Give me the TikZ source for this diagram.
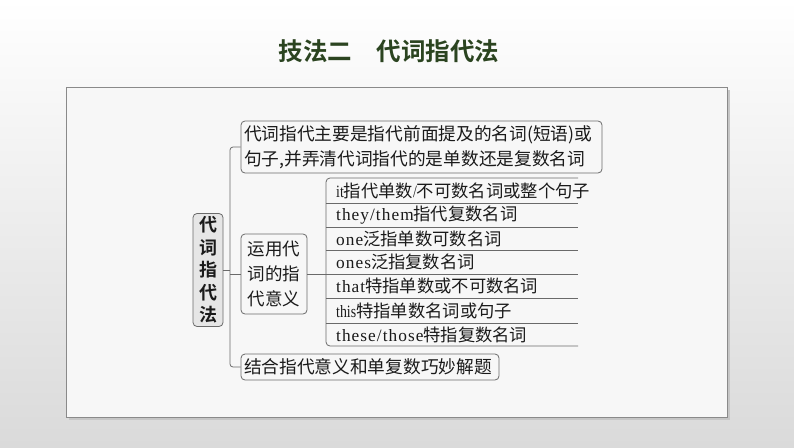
\documentclass[tikz,border=0pt]{standalone}
\usepackage{fontspec}
\setmainfont{Liberation Serif}
\newfontfamily\rowlatin{Liberation Serif}[LetterSpace=6]
\newfontfamily\narrowlatin{Liberation Serif}[FakeStretch=0.8]
\newfontfamily\cjk{Noto Sans CJK SC}
\newfontfamily\cjkbf{Noto Sans CJK SC Bold}
\definecolor{titlegreen}{HTML}{2B4420}
\definecolor{framefill}{HTML}{F7F7F7}
\definecolor{framedraw}{HTML}{8A8A8A}
\definecolor{boxdraw}{HTML}{6A6A6A}
\definecolor{rootfill}{HTML}{E6E6E6}
\definecolor{bgbottom}{HTML}{DADADA}
\definecolor{inktext}{HTML}{1A1A1A}
\begin{document}
\begin{tikzpicture}[x=1pt,y=-1pt,
  txt/.style={font=\fontsize{17.7}{25}\selectfont, text=inktext},
  bx/.style={txt, draw=boxdraw, line width=0.8pt, rounded corners=4pt, fill=framefill, inner sep=0pt},
  rowbox/.style={font=\rowlatin\fontsize{17.3}{24}\selectfont, text=inktext, anchor=west, inner sep=0pt},
  link/.style={draw=boxdraw, line width=0.8pt}]
\useasboundingbox (0,0) rectangle (794,447);
\shade[top color=white, bottom color=bgbottom] (0,0) rectangle (794,447);
\fill[gray!45] (68.5,89.5) rectangle (729.5,419.5);
\draw[fill=framefill, draw=framedraw, line width=1pt] (66,87) rectangle (727,417);
\node[font=\cjkbf\fontsize{24.5}{26}\selectfont, text=titlegreen] (title) at (389,51) {技法二　代词指代法};
% root
\node[bx, fill=rootfill, minimum width=30pt, minimum height=113pt, align=center, font=\cjkbf\fontsize{18}{22.6}\selectfont] (root) at (208,270) {代\\词\\指\\代\\法};
% box1
\node[bx, minimum width=361pt, minimum height=52pt, align=left, text width=355pt] (b1) at (421.5,147) {\cjk{代词指代主要是指代前面提及的名词}(\cjk{短语})\cjk{或}\\\cjk{句子},\cjk{并弄清代词指代的是单数还是复数名词}};
% box2
\node[bx, minimum width=66pt, minimum height=80pt, align=center, font=\cjk\fontsize{17.5}{25}\selectfont] (b2) at (274,274) {运用代\\词的指\\代意义};
% box3
\node[bx, minimum width=258pt, minimum height=26pt, align=left, text width=252pt] (b3) at (370,367) {\cjk{结合指代意义和单复数巧妙解题}};
% rows
\node[rowbox] (r1) at (336,190.5) {{\narrowlatin it}\cjk{指代单数}{\narrowlatin /}\cjk{不可数名词或整个句子}};
\node[rowbox] (r2) at (336,215) {they/them\cjk{指代复数名词}};
\node[rowbox] (r3) at (336,238.5) {one\cjk{泛指单数可数名词}};
\node[rowbox] (r4) at (336,262) {ones\cjk{泛指复数名词}};
\node[rowbox] (r5) at (336,286) {that\cjk{特指单数或不可数名词}};
\node[rowbox] (r6) at (336,310.5) {{\narrowlatin this}\cjk{特指单数名词或句子}};
\node[rowbox] (r7) at (336,334.5) {these/those\cjk{特指复数名词}};
\coordinate (rl) at (326,178);
\coordinate (rr) at (578,178);
\coordinate (bl) at (326,346);
\coordinate (br) at (578,346);
\draw[link, rounded corners=4pt] (rr) -- (rl) -- (bl) -- (br);
\foreach \y in {203,227,250,274,298,323}{
  \draw[link] (326,\y) -- (578,\y);
}
% trunk
\coordinate (trunk) at (230,274);
\draw[link, rounded corners=3pt] (b1.west) -| (trunk) |- (b3.west);
\draw[link] (root.east) -- (root.east -| trunk);
\draw[link] (trunk) -- (b2.west);
\draw[link] (b2.east) -- (b2.east -| rl);
\end{tikzpicture}
\end{document}
